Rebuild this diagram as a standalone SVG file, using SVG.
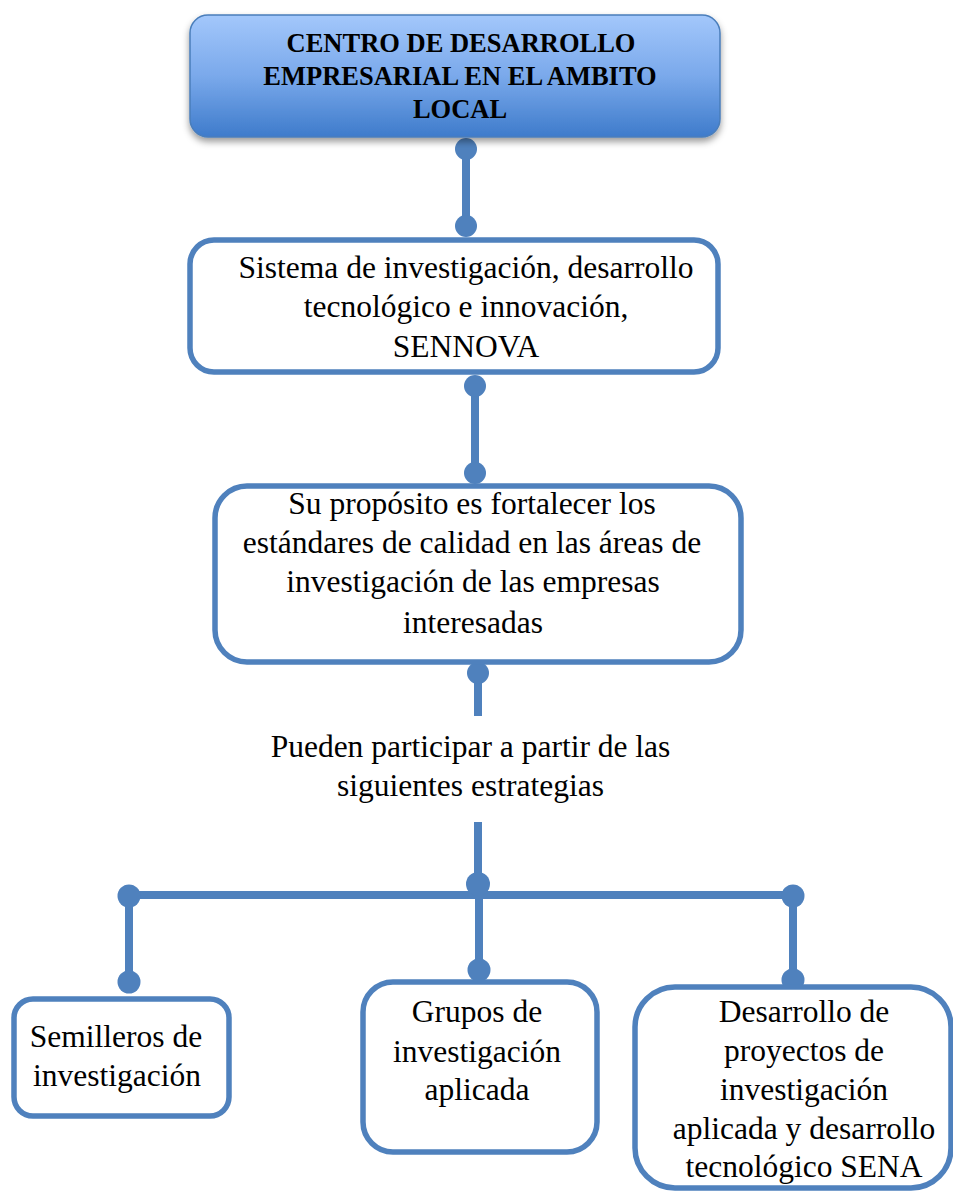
<svg xmlns="http://www.w3.org/2000/svg" width="953" height="1191" viewBox="0 0 953 1191">
<style>
.box{fill:#ffffff;stroke:#4f81bd;stroke-width:5.5}
.t{font-family:"Liberation Serif","Times New Roman",serif;font-size:31.5px;fill:#000;text-anchor:middle}
.tb{font-family:"Liberation Serif","Times New Roman",serif;font-size:26.5px;font-weight:bold;fill:#000;text-anchor:middle}
.ln{stroke:#4f81bd;stroke-width:8;fill:none}
.dot{fill:#4f81bd}
</style>
<defs>
<linearGradient id="g" x1="0" y1="0" x2="0" y2="1">
<stop offset="0" stop-color="#a3c7fb"/>
<stop offset="0.5" stop-color="#7aa9eb"/>
<stop offset="1" stop-color="#3e7bcb"/>
</linearGradient>
<filter id="sh" x="-10%" y="-20%" width="120%" height="150%">
<feDropShadow dx="0" dy="4" stdDeviation="3.5" flood-color="#000" flood-opacity="0.4"/>
</filter>
<clipPath id="cl"><rect x="190" y="15" width="530" height="103"/></clipPath>
</defs>
<rect width="953" height="1191" fill="#ffffff"/>
<g id="connectors">
<line class="ln" x1="466" y1="149" x2="466" y2="226"/>
<circle class="dot" cx="466" cy="149" r="11"/>
<circle class="dot" cx="466" cy="226" r="11"/>
<line class="ln" x1="475" y1="386" x2="475" y2="473"/>
<circle class="dot" cx="475" cy="386" r="11"/>
<circle class="dot" cx="475" cy="473" r="11"/>
<line class="ln" x1="478" y1="673" x2="478" y2="716"/>
<circle class="dot" cx="478" cy="673" r="11"/>
<line class="ln" x1="478" y1="822" x2="478" y2="884"/>
<line class="ln" x1="129" y1="895" x2="793" y2="895"/>
<circle class="dot" cx="478" cy="884" r="12"/>
<circle class="dot" cx="129" cy="896" r="11.5"/>
<circle class="dot" cx="793" cy="896" r="11.5"/>
<line class="ln" x1="129" y1="896" x2="129" y2="982"/>
<line class="ln" x1="479" y1="884" x2="479" y2="970"/>
<line class="ln" x1="793" y1="896" x2="793" y2="982"/>
<circle class="dot" cx="129" cy="982" r="11.5"/>
<circle class="dot" cx="479" cy="970" r="11.5"/>
<circle class="dot" cx="793" cy="980" r="11.5"/>
</g>
<g id="n-centro">
<rect x="190" y="15" width="530" height="122" rx="18" fill="url(#g)" stroke="#4a7ebb" stroke-width="1.5" filter="url(#sh)"/>
<g clip-path="url(#cl)">
<text class="tb" x="461" y="52">CENTRO DE DESARROLLO</text>
<text class="tb" x="460" y="85">EMPRESARIAL EN EL AMBITO</text>
<text class="tb" x="460" y="118">LOCAL</text>
</g>
</g>
<g id="n-sennova">
<rect class="box" x="190" y="240" width="528" height="132" rx="24"/>
<text class="t" x="466" y="278">Sistema de investigación, desarrollo</text>
<text class="t" x="466" y="317">tecnológico e innovación,</text>
<text class="t" x="466" y="357">SENNOVA</text>
</g>
<g id="n-proposito">
<rect class="box" x="215" y="486" width="526" height="176" rx="32"/>
<text class="t" x="472" y="514">Su propósito es fortalecer los</text>
<text class="t" x="472" y="553">estándares de calidad en las áreas de</text>
<text class="t" x="473" y="592">investigación de las empresas</text>
<text class="t" x="473" y="633">interesadas</text>
</g>
<g id="n-pueden">
<text class="t" x="470.5" y="757">Pueden participar a partir de las</text>
<text class="t" x="470.5" y="796">siguientes estrategias</text>
</g>
<g id="n-semilleros">
<rect class="box" x="14" y="999" width="215" height="117" rx="19"/>
<text class="t" x="116" y="1047">Semilleros de</text>
<text class="t" x="117" y="1086">investigación</text>
</g>
<g id="n-grupos">
<rect class="box" x="363" y="982" width="234" height="170" rx="30"/>
<text class="t" x="477" y="1022">Grupos de</text>
<text class="t" x="477" y="1062">investigación</text>
<text class="t" x="477" y="1100">aplicada</text>
</g>
<g id="n-desarrollo">
<rect class="box" x="635" y="987" width="316" height="201" rx="40"/>
<text class="t" x="804" y="1022">Desarrollo de</text>
<text class="t" x="804" y="1061">proyectos de</text>
<text class="t" x="804" y="1100">investigación</text>
<text class="t" x="804" y="1139">aplicada y desarrollo</text>
<text class="t" x="804" y="1177">tecnológico SENA</text>
</g>
</svg>
